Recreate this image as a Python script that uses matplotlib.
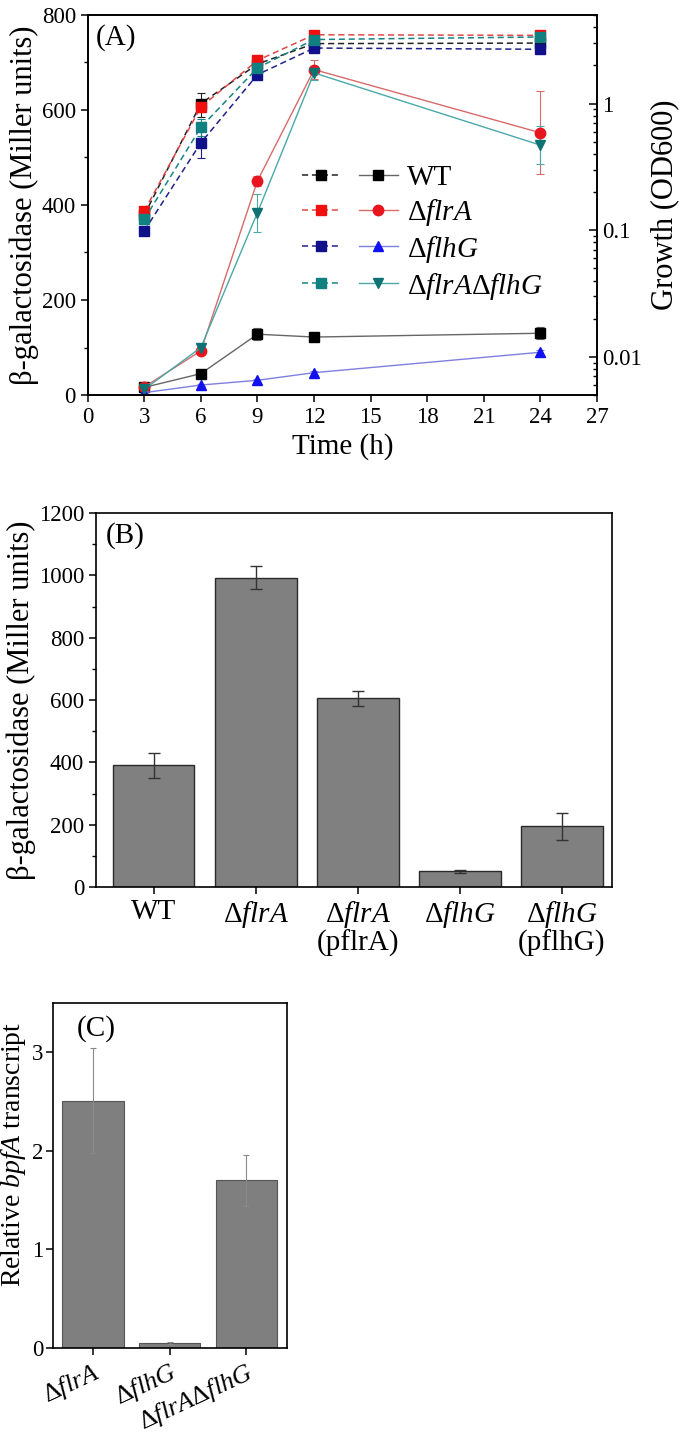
import numpy as np
import matplotlib
matplotlib.use('Agg')
import matplotlib.pyplot as plt
from matplotlib.ticker import MultipleLocator, FixedLocator, FixedFormatter, LogLocator, NullFormatter
from matplotlib.legend_handler import HandlerTuple

plt.rcParams['font.family'] = ['Liberation Serif', 'DejaVu Serif']
plt.rcParams['mathtext.fontset'] = 'custom'
plt.rcParams['mathtext.rm'] = 'Liberation Serif'
plt.rcParams['mathtext.it'] = 'Liberation Serif:italic'
plt.rcParams['axes.linewidth'] = 1.2

# ---- panel A data ----
time = [3, 6, 9, 12, 24]

wt_gal = [16, 45, 128, 122, 130]
wt_gal_err = [3, 5, 12, 5, 13]
flra_gal = [17, 93, 451, 685, 552]
flra_gal_err = [3, 5, 10, 20, 87]
flhg_gal = [5, 21, 31, 47, 90]
flhg_gal_err = [1, 3, 3, 4, 5]
dd_gal = [12, 100, 384, 678, 526]
dd_gal_err = [3, 5, 40, 15, 40]

wt_od = [0.132, 1.0, 2.05, 2.97, 3.0]
wt_od_err = [0.008, 0.22, 0.08, 0.1, 0.08]
flra_od = [0.142, 0.94, 2.19, 3.49, 3.45]
flra_od_err = [0.008, 0.08, 0.08, 0.08, 0.08]
flhg_od = [0.099, 0.49, 1.69, 2.74, 2.68]
flhg_od_err = [0.006, 0.12, 0.08, 0.08, 0.08]
dd_od = [0.122, 0.65, 1.91, 3.2, 3.35]
dd_od_err = [0.007, 0.1, 0.08, 0.08, 0.08]

# ---- panel B data ----
b_labels = ['WT', r'$\Delta\mathit{flrA}$', r'$\Delta\mathit{flrA}$' + '\n(pflrA)',
            r'$\Delta\mathit{flhG}$', r'$\Delta\mathit{flhG}$' + '\n(pflhG)']
b_vals = [390, 993, 605, 50, 195]
b_err = [40, 38, 24, 6, 44]

# ---- panel C data ----
c_labels = [r'$\Delta\mathit{flrA}$', r'$\Delta\mathit{flhG}$', r'$\Delta\mathit{flrA}\Delta\mathit{flhG}$']
c_vals = [2.51, 0.05, 1.70]
c_err = [0.53, 0.01, 0.26]

TICK = 16.5
LAB = 21
YLAB = 22

fig = plt.figure(figsize=(6.8, 14.39), dpi=100)


def style_ticks(ax):
    ax.tick_params(axis='both', which='major', labelsize=TICK, length=5, width=1.1, direction='out')
    ax.tick_params(axis='both', which='minor', length=3, width=1.0, direction='out')


# =============== panel A ===============
axA = fig.add_axes([0.129, 0.7255, 0.749, 0.2641])
axB2 = axA.twinx()

series = [
    ('WT', wt_gal, wt_gal_err, wt_od, wt_od_err, 's', '#000000', '#666666', '#222222', '#000000'),
    (r'$\Delta\mathit{flrA}$', flra_gal, flra_gal_err, flra_od, flra_od_err, 'o', '#e8141e', '#d86a6a', '#e04848', '#f01010'),
    (r'$\Delta\mathit{flhG}$', flhg_gal, flhg_gal_err, flhg_od, flhg_od_err, '^', '#1010f0', '#7f7fe0', '#20208a', '#10108a'),
    (r'$\Delta\mathit{flrA}\Delta\mathit{flhG}$', dd_gal, dd_gal_err, dd_od, dd_od_err, 'v', '#0e7272', '#4aa8a8', '#178484', '#108080'),
]

handles = []
labels = []
for name, gal, gerr, od, oerr, mk, mcol, lcol, dcol, scol in series:
    solid = axA.errorbar(time, gal, yerr=gerr, fmt='-', marker=mk, color=lcol, mfc=mcol, mec=mcol,
                         ms=7.5, lw=1.0, ecolor=lcol, elinewidth=0.8, capsize=3, capthick=0.8)
    dash = axB2.errorbar(time, od, yerr=oerr, fmt='--', marker='s', color=dcol, mfc=scol, mec=scol,
                         ms=7, lw=1.1, dashes=(4, 2.5), ecolor=dcol, elinewidth=0.8, capsize=3, capthick=0.8)
    handles.append((dash[0], solid[0]))
    labels.append(name)

axA.set_xlim(0, 27)
axA.set_xticks(np.arange(0, 28, 3))
axA.set_ylim(0, 800)
axA.yaxis.set_major_locator(MultipleLocator(200))
axA.yaxis.set_minor_locator(MultipleLocator(100))
style_ticks(axA)
axA.set_xlabel('Time (h)', fontsize=LAB, labelpad=4)
axA.set_ylabel('β-galactosidase (Miller units)', fontsize=YLAB, labelpad=2)
axA.text(0.015, 0.975, '(A)', transform=axA.transAxes, fontsize=21, va='top', ha='left')

axB2.set_yscale('log')
axB2.set_ylim(0.005, 5)
axB2.yaxis.set_major_locator(FixedLocator([0.01, 0.1, 1]))
axB2.yaxis.set_major_formatter(FixedFormatter(['0.01', '0.1', '1']))
axB2.yaxis.set_minor_locator(LogLocator(base=10, subs=np.arange(2, 10)))
axB2.yaxis.set_minor_formatter(NullFormatter())
axB2.tick_params(axis='y', which='major', labelsize=TICK, length=6, width=1.1, direction='in')
axB2.tick_params(axis='y', which='minor', length=3, width=1.0, direction='in')
axB2.set_ylabel('Growth (OD600)', fontsize=YLAB, labelpad=6)

leg = axB2.legend(handles, labels, handler_map={tuple: HandlerTuple(ndivide=None, pad=0.6)},
                  loc='upper left', bbox_to_anchor=(0.38, 0.66), frameon=False, fontsize=LAB,
                  handlelength=3.3, handletextpad=0.3, labelspacing=0.2, borderpad=0.2)

# =============== panel B ===============
axB = fig.add_axes([0.141, 0.3836, 0.759, 0.2599])
xb = np.arange(len(b_vals))
axB.bar(xb, b_vals, width=0.8, color='#808080', edgecolor='#2a2a2a', linewidth=1.0,
        yerr=b_err, error_kw=dict(ecolor='#333333', elinewidth=1.0, capsize=4, capthick=1.0))
axB.set_xlim(-0.565, 4.49)
axB.set_ylim(0, 1200)
axB.yaxis.set_major_locator(MultipleLocator(200))
axB.yaxis.set_minor_locator(MultipleLocator(100))
axB.set_xticks(xb)
axB.set_xticklabels(b_labels, linespacing=1.0)
style_ticks(axB)
axB.tick_params(axis='x', labelsize=LAB)
axB.set_ylabel('β-galactosidase (Miller units)', fontsize=YLAB, labelpad=2)
axB.text(0.02, 0.975, '(B)', transform=axB.transAxes, fontsize=21, va='top', ha='left')

# =============== panel C ===============
axC = fig.add_axes([0.078, 0.0632, 0.344, 0.2398])
xc = np.arange(len(c_vals))
axC.bar(xc, c_vals, width=0.8, color='#7f7f7f', edgecolor='#555555', linewidth=0.8,
        yerr=c_err, error_kw=dict(ecolor='#8a8a8a', elinewidth=0.8, capsize=2, capthick=0.8))
axC.set_xlim(-0.52, 2.53)
axC.set_ylim(0, 3.5)
axC.set_yticks([0, 1, 2, 3])
axC.set_xticks(xc)
axC.set_xticklabels(c_labels, rotation=25, ha='right', va='top', rotation_mode='anchor')
style_ticks(axC)
axC.tick_params(axis='y', pad=2)
axC.tick_params(axis='x', labelsize=19, pad=3)
axC.set_ylabel(r'Relative $\mathit{bpfA}$ transcript', fontsize=20)
axC.yaxis.set_label_coords(-0.105, 0.56)
axC.text(0.1, 0.965, '(C)', transform=axC.transAxes, fontsize=21, va='top', ha='left')

fig.savefig('out.png', dpi=100)
